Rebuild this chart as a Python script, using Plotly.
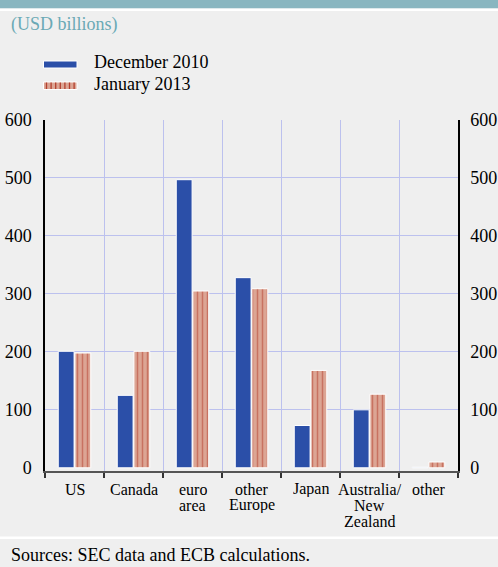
import plotly.graph_objects as go

categories = ["US", "Canada", "euro area", "other Europe", "Japan", "Australia/ New Zealand", "other"]
cat_labels = ["US", "Canada", "euro<br>area", "other<br>Europe", "Japan", "Australia/<br>New<br>Zealand", "other"]
dec2010 = [201, 125, 497, 328, 73, 100, 1]
jan2013 = [198, 201, 305, 309, 168, 127, 10]
y_ticks = [0, 100, 200, 300, 400, 500, 600]

W, H = 498, 567
L, R, T, B = 45, 40, 120, 96
PW, PH = W - L - R, H - T - B

def px(xp):
    return (xp - L) / PW

def py(yp):
    return (H - B - yp) / PH

FONT = "Liberation Serif"
BLUE = "#2b4fa8"
SALMON = "#dca594"
DARKRED = "#b3402e"
GRID = "#bcc1ee"
BG = "#efefef"

fig = go.Figure()
fig.add_trace(go.Bar(
    x=categories, y=dec2010, name="December 2010",
    marker=dict(color=BLUE, line=dict(color="white", width=1)),
    showlegend=False,
))
fig.add_trace(go.Bar(
    x=categories, y=jan2013, name="January 2013",
    marker=dict(color=SALMON, line=dict(color="white", width=1),
                pattern=dict(shape="|", fgcolor=DARKRED, bgcolor=SALMON, size=5, solidity=0.3)),
    showlegend=False,
))
# helper traces for extra axes
fig.add_trace(go.Scatter(x=[], y=[], yaxis="y2", showlegend=False))
fig.add_trace(go.Scatter(x=[], y=[], yaxis="y3", showlegend=False))

yr = [-5.5, 600]
axfont = dict(family=FONT, size=18, color="black")
fig.update_layout(
    width=W, height=H,
    margin=dict(l=L, r=R, t=T, b=B, pad=0, autoexpand=False),
    paper_bgcolor=BG, plot_bgcolor=BG,
    bargap=0.435, bargroupgap=0.05,
    barmode="group",
    xaxis=dict(
        type="category", tickson="boundaries", ticks="outside", ticklen=5,
        tickcolor="#333", tickwidth=1.5,
        showline=True, linecolor="#555", linewidth=2,
        showgrid=True, gridcolor=GRID, gridwidth=1,
        showticklabels=False, zeroline=False, automargin=False,
    ),
    yaxis=dict(
        range=yr, tickvals=y_ticks, showgrid=False, zeroline=False,
        showline=True, linecolor="black", linewidth=1.5,
        tickfont=axfont, ticks="", ticklabelstandoff=8, automargin=False,
    ),
    yaxis2=dict(
        range=yr, tickvals=y_ticks, overlaying="y", side="right", showgrid=False,
        zeroline=False, showline=True, linecolor="black", linewidth=1.5,
        tickfont=axfont, ticks="", ticklabelstandoff=7, automargin=False,
    ),
    yaxis3=dict(
        range=yr, tickvals=y_ticks[1:], overlaying="y", showgrid=True, gridcolor=GRID,
        gridwidth=1, zeroline=False, showline=False, showticklabels=False, ticks="",
        automargin=False,
    ),
    font=dict(family=FONT, size=18, color="black"),
)

shapes = []
annotations = []
# top teal band and white line
shapes.append(dict(type="rect", xref="paper", yref="paper", x0=px(0), x1=px(W), y0=py(8.5), y1=py(0),
                   fillcolor="#89b6c0", line=dict(width=0), layer="above"))
shapes.append(dict(type="rect", xref="paper", yref="paper", x0=px(0), x1=px(W), y0=py(11), y1=py(8.5),
                   fillcolor="white", line=dict(width=0)))
# bottom separator
shapes.append(dict(type="rect", xref="paper", yref="paper", x0=px(0), x1=px(W), y0=py(539), y1=py(536.5),
                   fillcolor="white", line=dict(width=0)))
# legend symbols
shapes.append(dict(type="rect", xref="paper", yref="paper", x0=px(43.5), x1=px(77), y0=py(68), y1=py(61),
                   fillcolor=BLUE, line=dict(color="white", width=1)))
shapes.append(dict(type="rect", xref="paper", yref="paper", x0=px(43.5), x1=px(77), y0=py(89.5), y1=py(82),
                   fillcolor=SALMON, line=dict(color="white", width=1)))
xs = 46.5
while xs < 76:
    shapes.append(dict(type="line", xref="paper", yref="paper", x0=px(xs), x1=px(xs), y0=py(89), y1=py(82.5),
                       line=dict(color=DARKRED, width=1.3)))
    xs += 4.6

annotations.append(dict(text="(USD billions)", xref="paper", yref="paper", x=px(9), y=py(25),
                        xanchor="left", yanchor="middle", showarrow=False,
                        font=dict(family=FONT, size=18, color="#6aa9b5")))
annotations.append(dict(text="December 2010", xref="paper", yref="paper", x=px(92), y=py(62),
                        xanchor="left", yanchor="middle", showarrow=False,
                        font=dict(family=FONT, size=18, color="black")))
annotations.append(dict(text="January 2013", xref="paper", yref="paper", x=px(92), y=py(83.5),
                        xanchor="left", yanchor="middle", showarrow=False,
                        font=dict(family=FONT, size=18, color="black")))
annotations.append(dict(text="Sources: SEC data and ECB calculations.", xref="paper", yref="paper",
                        x=px(9), y=py(555), xanchor="left", yanchor="middle", showarrow=False,
                        font=dict(family=FONT, size=18, color="black")))
# category labels, one line per annotation for tight line spacing
for cat, lab in zip(categories, cat_labels):
    for i, line in enumerate(lab.split("<br>")):
        annotations.append(dict(text=line, xref="x", yref="paper", x=cat, y=py(489 + i * 16),
                                xanchor="center", yanchor="middle", showarrow=False, height=16,
                                font=dict(family=FONT, size=16, color="black")))

fig.update_layout(shapes=shapes, annotations=annotations)
fig.write_html("out.html", config={"displayModeBar": False},
               post_script="document.body.style.margin='0';document.body.style.overflow='hidden';")
